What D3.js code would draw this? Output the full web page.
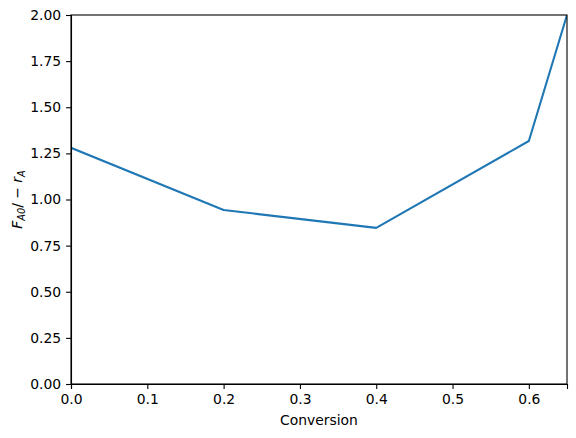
<!DOCTYPE html>
<html>
<head>
<meta charset="utf-8">
<script src="https://cdn.jsdelivr.net/npm/d3@7"></script>
<style>
  body { margin: 0; background: #fff; }
  svg text { font-family: "DejaVu Sans", sans-serif; }
  .tick text { font-size: 13.9px; fill: #000; }
  .tick line, .domain { stroke: #000; stroke-width: 1.1px; }
</style>
</head>
<body>
<div id="chart"></div>
<script>
// Data
const conversion = [0, 0.2, 0.4, 0.6, 0.65]
const levenspiel = [1.28, 0.943, 0.846, 1.317, 2.0]
const xTicks = [0, 0.1, 0.2, 0.3, 0.4, 0.5, 0.6]
const yTicks = [0, 0.25, 0.5, 0.75, 1.0, 1.25, 1.5, 1.75, 2.0]

const width = 576
const height = 438
const margin = { top: 15, right: 9, bottom: 54, left: 71 }

const svg = d3.select('#chart')
  .append('svg')
  .attr('width', width)
  .attr('height', height)

const x = d3.scaleLinear()
  .domain([0, 0.65])
  .range([margin.left, width - margin.right])

const y = d3.scaleLinear()
  .domain([0, 2])
  .range([height - margin.bottom, margin.top])

// Clip so line stays inside axes
svg.append('clipPath').attr('id', 'clip')
  .append('rect')
  .attr('x', margin.left)
  .attr('y', margin.top)
  .attr('width', x.range()[1] - margin.left)
  .attr('height', y.range()[0] - margin.top)

// Line
const line = d3.line()
  .x((d, i) => x(conversion[i]))
  .y(d => y(d))

svg.append('path')
  .datum(levenspiel)
  .attr('clip-path', 'url(#clip)')
  .attr('fill', 'none')
  .attr('stroke', '#1f77b4')
  .attr('stroke-width', 2.1)
  .attr('stroke-linejoin', 'round')
  .attr('stroke-linecap', 'square')
  .attr('d', line)

// Axes
svg.append('g')
  .attr('transform', `translate(0, ${height - margin.bottom})`)
  .call(d3.axisBottom(x).tickValues(xTicks).tickFormat(d3.format('.1f')).tickSizeOuter(0).tickSize(4.9).tickPadding(4.9))

svg.append('g')
  .attr('transform', `translate(${margin.left}, 0)`)
  .call(d3.axisLeft(y).tickValues(yTicks).tickFormat(d3.format('.2f')).tickSizeOuter(0).tickSize(4.9).tickPadding(4.9))

// Frame (top and right spines)
svg.append('rect')
  .attr('x', margin.left)
  .attr('y', margin.top)
  .attr('width', x.range()[1] - margin.left)
  .attr('height', y.range()[0] - margin.top)
  .attr('fill', 'none')
  .attr('stroke', '#000')
  .attr('stroke-width', 1.1)

// Axis labels
svg.append('text')
  .text('Conversion')
  .attr('x', (x.range()[0] + x.range()[1]) / 2)
  .attr('y', 425)
  .attr('text-anchor', 'middle')
  .style('font-size', '13.9px')

const ylab = svg.append('text')
  .attr('transform', `translate(22, ${(y.range()[0] + y.range()[1]) / 2}) rotate(-90)`)
  .attr('text-anchor', 'middle')
  .style('font-size', '13.9px')
  .style('font-style', 'italic')

ylab.append('tspan').text('F')
ylab.append('tspan').text('A0').attr('dy', 3).style('font-size', '9.7px')
ylab.append('tspan').text('/ − ').attr('dy', -3).style('font-style', 'normal')
ylab.append('tspan').text('r')
ylab.append('tspan').text('A').attr('dy', 3).style('font-size', '9.7px')
</script>
</body>
</html>
